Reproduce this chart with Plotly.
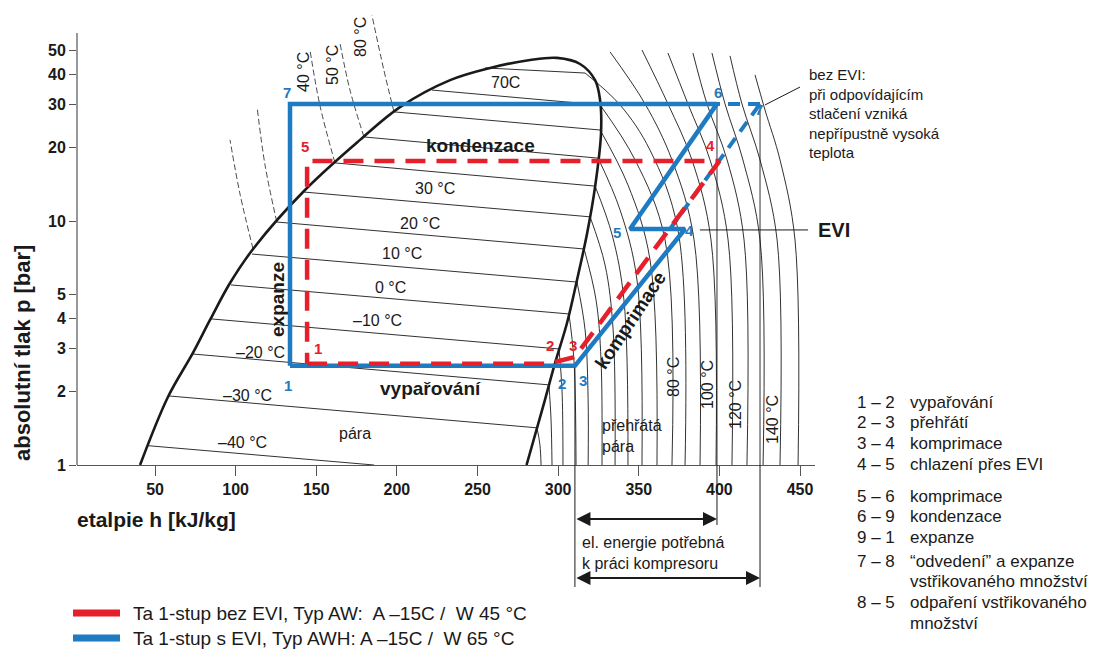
import plotly.graph_objects as go

# ---------------- data ----------------
# saturation dome: liquid line -> critical region -> vapour line
dome_h = [40.7, 58.0, 73.5, 84.1, 96.5, 110.8, 143.0, 177.1, 201.9, 233.0, 257.8, 282.6,
          299.3, 313.6, 322.9, 326.0, 326.6, 322.9, 318.0, 311.7, 305.5, 298.1, 290.6, 280.4]
dome_p = [1.0, 1.90, 2.88, 3.93, 5.57, 7.68, 13.4, 21.5, 29.3, 37.8, 42.4, 45.7,
          46.6, 44.0, 37.8, 31.3, 22.9, 13.8, 8.93, 5.73, 3.82, 2.62, 1.73, 1.0]

# two-phase isotherms (start on liquid line, end on vapour line)
tp_temps = [-40, -30, -20, -10, 0, 10, 20, 30, 40, 50, 60, 70, 80]
tp_h_start = [45.6, 58.0, 73.5, 84.7, 97.1, 110.1, 125.1, 141.8, 161.6, 179.6, 198.2, 221.8, 254.6]
tp_p_start = [1.20, 1.92, 2.85, 3.97, 5.47, 7.32, 9.91, 13.15, 17.3, 22.1, 28.0, 34.4, 42.4]
tp_h_end = [185.8, 286.9, 294.3, 300.5, 306.7, 311.7, 316.1, 319.8, 322.9, 324.8, 326.0, 326.0, 316.7]
tp_p_end = [1.0, 1.42, 2.13, 2.99, 4.16, 5.62, 7.68, 10.4, 13.9, 18.1, 23.6, 29.9, 40.4]

# sub-cooled liquid isotherms (left of the liquid line)
liq_h = [[110.8, 102.8, 96.5], [125.5, 118.2, 113.3], [161.6, 152.2, 146.1],
         [179.6, 170.9, 164.7], [198.2, 191.9, 184.5]]
liq_p = [[7.68, 12.8, 21.5], [9.91, 16.97, 29.3], [17.3, 29.9, 50.2],
         [22.1, 34.4, 53.6], [28.0, 41.6, 69.9]]

# superheated-vapour isotherms, -30 .. 150 degC
sh_h = [[286.9, 288.7, 289.4],
        [294.3, 295.6, 296.2],
        [300.5, 302.4, 303.0],
        [306.7, 309.8, 311.1],
        [311.7, 316.7, 318.6, 318.6],
        [316.1, 323.5, 326.6, 327.2],
        [319.8, 329.1, 334.1, 335.3],
        [322.9, 333.5, 340.8, 343.3],
        [324.8, 338.4, 348.9, 352.0],
        [326.0, 343.3, 357.0, 361.3],
        [326.0, 347.7, 366.3, 370.6],
        [316.7, 338.4, 357.0, 374.3, 378.7],
        [332.2, 353.9, 370.6, 384.3, 388.0],
        [352.0, 368.1, 383.0, 394.8, 397.9],
        [368.1, 380.5, 394.2, 405.4, 407.8],
        [383.6, 392.3, 404.8, 415.3, 417.1],
        [395.4, 403.5, 414.6, 425.2, 427.1],
        [406.6, 414.0, 425.2, 435.8, 437.6],
        [422.1, 428.3, 437.6, 446.9, 448.8]]
sh_p = [[1.42, 1.21, 1.0],
        [2.13, 1.53, 1.0],
        [2.99, 2.03, 1.0],
        [4.16, 2.69, 1.0],
        [5.62, 3.58, 1.85, 1.0],
        [7.68, 4.75, 2.69, 1.0],
        [10.4, 6.60, 3.58, 1.0],
        [13.9, 8.76, 4.75, 1.0],
        [18.1, 11.1, 5.73, 1.0],
        [23.6, 14.05, 6.92, 1.0],
        [29.9, 17.8, 8.36, 1.0],
        [40.4, 29.9, 19.5, 9.19, 1.0],
        [49.3, 30.2, 17.8, 8.36, 1.0],
        [50.2, 30.2, 17.8, 8.36, 1.0],
        [48.8, 30.2, 17.8, 8.36, 1.0],
        [48.8, 30.2, 17.8, 8.36, 1.0],
        [48.8, 30.2, 17.8, 8.36, 1.0],
        [47.5, 30.2, 17.8, 8.36, 1.0],
        [39.7, 28.5, 17.8, 8.36, 1.0]]

# cycle with EVI (blue): 1 -> 3 -> 4 -> 5 -> 6 -> 7 -> 1
blue_h = [133.7, 310.4, 378.7, 344.6, 398.5, 133.7, 133.7]
blue_p = [2.55, 2.55, 9.27, 9.27, 30.2, 30.2, 2.55]
# hypothetical compression without EVI (blue dashed)
blue_dash_h = [369.4, 425.2, 398.5]
blue_dash_p = [9.27, 30.2, 30.2]
# cycle without EVI (red dashed): 1 -> 2 -> 3 -> 4 -> 5 -> 1
red_h = [144.3, 293.7, 310.4, 400.0, 144.3, 144.3]
red_p = [2.60, 2.60, 2.77, 17.6, 17.6, 2.60]

# enthalpy markers for compressor work
mark_h = [310.4, 398.5, 425.2]
mark_p = [2.55, 30.2, 30.2]

x_ticks = [50, 100, 150, 200, 250, 300, 350, 400, 450]
y_ticks = [1, 2, 3, 4, 5, 10, 20, 30, 40, 50]

legend_texts = ["Ta 1-stup bez EVI, Typ AW:  A –15C /  W 45 °C",
                "Ta 1-stup s EVI, Typ AWH: A –15C /  W 65 °C"]
list_nums = ["1 – 2", "2 – 3", "3 – 4", "4 – 5", "5 – 6", "6 – 9", "9 – 1", "7 – 8", "", "8 – 5", ""]
list_texts = ["vypařování", "přehřátí", "komprimace", "chlazení přes EVI", "komprimace",
              "kondenzace", "expanze", "“odvedení” a expanze", "vstřikovaného množství",
              "odpaření vstřikovaného", "množství"]

# ---------------- layout helpers ----------------
# the page body adds an 8 px margin, so the figure is shifted by 8 px
W, H = 1093, 644
L, R, T, B = 69, 286, 0, 187
PW = W - L - R          # 738
PH = H - T - B          # 457
OFF = 8                 # body margin of the page


def PX(x):
    """reference-window pixel x -> paper x"""
    return (x - OFF - L) / PW


def PY(y):
    """reference-window pixel y -> paper y"""
    return (T + PH - (y - OFF)) / PH


FONT = "Liberation Sans, Arial, sans-serif"
BLUE = "#1f7bc1"
RED = "#e5202b"
INK = "#1a1a1a"

fig = go.Figure()


def add_line(h, p, color=INK, width=1.0, dash="solid", shape="linear"):
    fig.add_trace(go.Scatter(x=h, y=p, mode="lines", hoverinfo="skip",
                             line=dict(color=color, width=width, dash=dash, shape=shape)))


for i in range(len(tp_temps)):
    add_line([tp_h_start[i], tp_h_end[i]], [tp_p_start[i], tp_p_end[i]], width=0.9)
for hh, pp in zip(liq_h, liq_p):
    add_line(hh, pp, width=0.8, dash="6px,3px", shape="spline")
for hh, pp in zip(sh_h, sh_p):
    add_line(hh, pp, width=0.9, shape="spline")

add_line(dome_h, dome_p, width=2.6, shape="spline")

for hh, pp in zip(mark_h, mark_p):
    add_line([hh, hh], [pp, 1.0], width=0.9)

# leader lines
add_line([387.9, 455.0], [9.19, 9.19], width=1.0)
add_line([428.3, 450.0], [29.9, 35.4], width=1.0)

add_line(blue_h, blue_p, color=BLUE, width=4.5)
add_line(blue_dash_h[:2], blue_dash_p[:2], color=BLUE, width=4, dash="12px,8px")
add_line(blue_dash_h[1:], blue_dash_p[1:], color=BLUE, width=4, dash="12px,8px")
add_line(red_h, red_p, color=RED, width=4.5, dash="20px,11px")

annotations = []


def lab(x, y, text, size=16, color=INK, bold=False, angle=0, xanchor="center",
        yanchor="middle", align="center"):
    annotations.append(dict(x=PX(x), y=PY(y), xref="paper", yref="paper", text=text,
                            showarrow=False, textangle=angle, xanchor=xanchor,
                            yanchor=yanchor, align=align,
                            font=dict(family=FONT, size=size, color=color,
                                      weight="bold" if bold else "normal")))


# axis titles
lab(22, 353, "absolutní tlak p [bar]", size=22, bold=True, angle=-90)
lab(75, 519, "etalpie h [kJ/kg]", size=21, bold=True, xanchor="left")

# region labels
lab(480, 145, "kondenzace", size=19, bold=True)
lab(430, 388, "vypařování", size=19, bold=True)
lab(277, 300, "expanze", size=19, bold=True, angle=-90)
lab(630, 320, "komprimace", size=19, bold=True, angle=-56.5)
lab(355, 433, "pára", size=16)
lab(600, 436, "přehřátá<br>pára", size=16, xanchor="left", align="left")

# isotherm labels
lab(505, 83, "70C", size=16)
lab(435, 188, "30 °C", size=16)
lab(420, 223, "20 °C", size=16)
lab(402, 253, "10 °C", size=16)
lab(390, 287, "0 °C", size=16)
lab(377, 320, "–10 °C", size=16)
lab(260, 352, "–20 °C", size=16)
lab(247, 395, "–30 °C", size=16)
lab(242, 442, "–40 °C", size=16)
lab(673, 377, "80 °C", size=16, angle=-90)
lab(707, 385, "100 °C", size=16, angle=-90)
lab(735, 405, "120 °C", size=16, angle=-90)
lab(772, 420, "140 °C", size=16, angle=-90)
lab(303, 72, "40 °C", size=16, angle=-90)
lab(332, 65, "50 °C", size=16, angle=-90)
lab(360, 37, "80 °C", size=16, angle=-90)

# state point labels
for x, y, t in [(287, 92, "7"), (288, 385, "1"), (562, 383, "2"), (583, 380, "3"),
                (617, 232, "5"), (689, 230, "4"), (718, 93, "6"), (759, 109, "7")]:
    lab(x, y, t, size=15, color=BLUE, bold=True)
for x, y, t in [(305, 146, "5"), (318, 348, "1"), (550, 345, "2"), (573, 345, "3"),
                (710, 145, "4")]:
    lab(x, y, t, size=15, color=RED, bold=True)

# right side notes
lab(807, 64, "bez EVI:<br>při odpovídajícím<br>stlačení vzniká<br>nepřípustně vysoká<br>teplota",
    size=15, xanchor="left", yanchor="top", align="left")
lab(816, 230, "EVI", size=20, bold=True, xanchor="left")

# compressor work text
lab(580, 553, "el. energie potřebná<br>k práci kompresoru", size=16, xanchor="left", align="left")

# process list
list_y = [402, 422, 443, 464, 496, 516, 537, 561, 581, 602, 623]
for yy, n, t in zip(list_y, list_nums, list_texts):
    if n:
        lab(855, yy, n, size=17, xanchor="left")
    lab(908, yy, t, size=17, xanchor="left")

# legend texts
lab(131, 613, legend_texts[0], size=19, xanchor="left")
lab(131, 638, legend_texts[1], size=19, xanchor="left")

# double-headed arrows for compressor work
for y, h_end, h_start in [(519, mark_h[1], mark_h[0]), (578, mark_h[2], mark_h[0])]:
    annotations.append(dict(x=h_end, xref="x", y=PY(y), yref="paper", text="",
                            showarrow=True, axref="x", ax=h_start, ayref="pixel", ay=0,
                            arrowhead=2, startarrowhead=2, arrowside="end+start",
                            arrowsize=1.4, startarrowsize=1.4, arrowwidth=2,
                            arrowcolor=INK, standoff=0, startstandoff=0))

shapes = [
    # y axis line (only up to the 59 bar level)
    dict(type="line", xref="paper", yref="paper", x0=0, x1=0, y0=0, y1=PY(33),
         line=dict(color="#555", width=1.2)),
    # marker verticals below the axis
    dict(type="line", xref="x", yref="paper", x0=mark_h[0], x1=mark_h[0], y0=0, y1=PY(587),
         line=dict(color=INK, width=1)),
    dict(type="line", xref="x", yref="paper", x0=mark_h[1], x1=mark_h[1], y0=0, y1=PY(525),
         line=dict(color=INK, width=1)),
    dict(type="line", xref="x", yref="paper", x0=mark_h[2], x1=mark_h[2], y0=0, y1=PY(587),
         line=dict(color=INK, width=1)),
    # legend swatches
    dict(type="line", xref="paper", yref="paper", x0=PX(73), x1=PX(120), y0=PY(613), y1=PY(613),
         line=dict(color=RED, width=7)),
    dict(type="line", xref="paper", yref="paper", x0=PX(73), x1=PX(120), y0=PY(638), y1=PY(638),
         line=dict(color=BLUE, width=7)),
]

fig.update_layout(
    width=W, height=H, autosize=False,
    margin=dict(l=L, r=R, t=T, b=B, pad=0),
    paper_bgcolor="white", plot_bgcolor="white",
    showlegend=False,
    font=dict(family=FONT, color=INK),
    annotations=annotations, shapes=shapes,
    xaxis=dict(range=[1.6, 459.3], tickvals=x_ticks, ticktext=[str(v) for v in x_ticks],
               showgrid=False, zeroline=False, showline=True, linecolor="#555", linewidth=1.2,
               ticks="outside", ticklen=10, tickcolor="#555", automargin=False,
               tickfont=dict(size=16, weight="bold", color=INK)),
    yaxis=dict(type="log", range=[0, PH / 244.0], tickvals=y_ticks,
               ticktext=[str(v) for v in y_ticks],
               showgrid=False, zeroline=False, showline=False, automargin=False,
               ticks="outside", ticklen=7, tickcolor="#555",
               tickfont=dict(size=16, weight="bold", color=INK)),
)

fig.write_html("out.html")
